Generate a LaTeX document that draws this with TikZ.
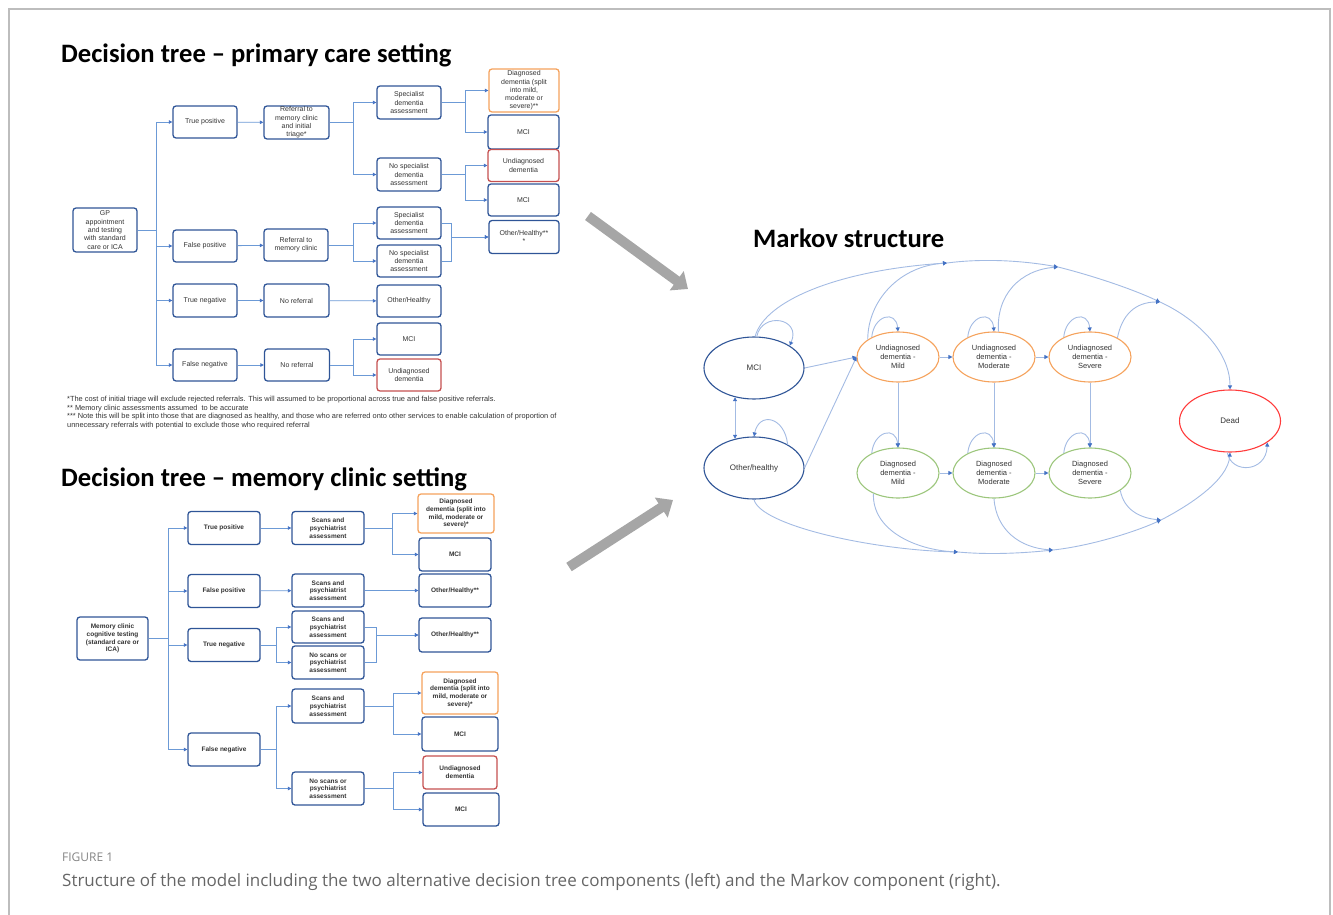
\documentclass[tikz,border=0pt]{standalone}
\usepackage{fontspec}
\setmainfont{Liberation Sans}
\newfontfamily\titlefont{Carlito}
\newfontfamily\capfont{Open Sans}
\usetikzlibrary{arrows.meta,shapes.geometric}

\definecolor{boxblue}{HTML}{2F5597}
\definecolor{boxorange}{HTML}{F5A25C}
\definecolor{boxred}{HTML}{C55050}
\definecolor{stategreen}{HTML}{9CC67C}
\definecolor{deadred}{HTML}{FF3B3B}
\definecolor{lineblue}{HTML}{6C9AD6}
\definecolor{mlineblue}{HTML}{A3BBE3}
\definecolor{tipblue}{HTML}{4472C4}
\definecolor{darktext}{HTML}{333333}
\definecolor{arrowgrey}{HTML}{A6A6A6}
\definecolor{framegrey}{HTML}{BDBDBD}
\definecolor{capgrey}{HTML}{666666}

\tikzset{
    title/.style={anchor=base west, inner sep=0pt, font=\fontsize{26.6}{30}\selectfont\titlefont\bfseries},
    pbox/.style={draw=boxblue, line width=1.3pt, rounded corners=3pt, align=center, inner sep=0pt,
        minimum width=64, minimum height=32, text=darktext, font=\fontsize{7}{8.3}\selectfont},
    mbox/.style={pbox, minimum width=72, minimum height=33, font=\fontsize{6.5}{7.7}\selectfont\bfseries},
    orangebox/.style={draw=boxorange},
    redbox/.style={draw=boxred},
    tarrow/.style={draw=lineblue, line width=0.8pt, -{Triangle[width=3.5pt,length=3.5pt,color=tipblue]}},
    mstate/.style={ellipse, draw, line width=1.1pt, align=center, inner sep=0pt,
        minimum width=82, minimum height=50, text=darktext, font=\fontsize{7.5}{9}\selectfont},
    bigstate/.style={mstate, minimum width=100, minimum height=62, font=\fontsize{8}{9.6}\selectfont},
    mline/.style={draw=mlineblue, line width=0.9pt, -{Triangle[width=4pt,length=4pt,color=tipblue]}},
    bigarrow/.style={draw=arrowgrey, line width=10pt, -{Triangle[width=23pt,length=14pt,color=arrowgrey]}},
    note/.style={anchor=north west, align=left, inner sep=0pt, text=darktext, font=\fontsize{7.4}{8.5}\selectfont}
}

\begin{document}
\begin{tikzpicture}[x=1pt, y=1pt]
    \useasboundingbox (0,0) rectangle (1333,-915);
    \draw[framegrey, line width=1.4pt] (9,-915) -- (9,-9) -- (1330,-9) -- (1330,-915);

    % primary care tree
    \node[title] (TITLEA) at (61,-63) {Decision tree – primary care setting};

    \node[pbox, minimum height=44] (GP) at (105,-230) {GP\\appointment\\and testing\\with standard\\care or ICA};
    \node[pbox] (TP) at (205,-122) {True positive};
    \node[pbox] (FP) at (205,-246) {False positive};
    \node[pbox, minimum height=33] (TN) at (205,-300.5) {True negative};
    \node[pbox] (FN) at (205,-365) {False negative};

    \node[pbox, minimum width=65, minimum height=33] (REFA) at (296.5,-122.5) {Referral to\\memory clinic\\and initial\\triage*};
    \node[pbox] (REFB) at (296,-245) {Referral to\\memory clinic};
    \node[pbox, minimum width=65, minimum height=33] (NRA) at (296.5,-300.5) {No referral};
    \node[pbox, minimum width=65] (NRB) at (297,-365) {No referral};

    \node[pbox, minimum height=33] (SPA) at (409,-102.5) {Specialist\\dementia\\assessment};
    \node[pbox, minimum height=33] (NSA) at (409,-174.5) {No specialist\\dementia\\assessment};
    \node[pbox] (SPB) at (409,-223) {Specialist\\dementia\\assessment};
    \node[pbox] (NSB) at (409,-261) {No specialist\\dementia\\assessment};
    \node[pbox] (OHB) at (409,-301) {Other/Healthy};
    \node[pbox] (MCIC) at (409,-339) {MCI};
    \node[pbox, redbox] (UDB) at (409,-375) {Undiagnosed\\dementia};

    \node[pbox, orangebox, minimum width=70, minimum height=43] (DDA) at (524,-90.5) {Diagnosed\\dementia (split\\into mild,\\moderate or\\severe)**};
    \node[pbox, minimum width=71, minimum height=34] (MCIA) at (523.5,-132) {MCI};
    \node[pbox, redbox, minimum width=71] (UDA) at (523.5,-165.5) {Undiagnosed\\dementia};
    \node[pbox, minimum width=71] (MCIB) at (523.5,-200) {MCI};
    \node[pbox, minimum width=70, minimum height=33] (OHA) at (524,-237) {Other/Healthy**\\*};

    \draw[tarrow] (GP.east) -- ++(19,0) |- (TP.west);
    \draw[tarrow] (GP.east) -- ++(19,0) |- (FP.west);
    \draw[tarrow] (GP.east) -- ++(19,0) |- (TN.west);
    \draw[tarrow] (GP.east) -- ++(19,0) |- (FN.west);

    \draw[tarrow] (TP) -- (REFA);
    \draw[tarrow] (FP) -- (REFB);
    \draw[tarrow] (TN) -- (NRA);
    \draw[tarrow] (FN) -- (NRB);

    \draw[tarrow] (REFA.east) -- ++(24,0) |- (SPA.west);
    \draw[tarrow] (REFA.east) -- ++(24,0) |- (NSA.west);
    \draw[tarrow] (REFB.east) -- ++(25,0) |- (SPB.west);
    \draw[tarrow] (REFB.east) -- ++(25,0) |- (NSB.west);
    \draw[tarrow] (NRA) -- (OHB);
    \draw[tarrow] (NRB.east) -- ++(23,0) |- (MCIC.west);
    \draw[tarrow] (NRB.east) -- ++(23,0) |- (UDB.west);

    \draw[tarrow] (SPA.east) -- ++(24,0) |- (DDA.west);
    \draw[tarrow] (SPA.east) -- ++(24,0) |- (MCIA.west);
    \draw[tarrow] (NSA.east) -- ++(24,0) |- (UDA.west);
    \draw[tarrow] (NSA.east) -- ++(24,0) |- (MCIB.west);
    \draw[tarrow] (SPB.east) -- ++(10,0) |- (OHA.west);
    \draw[tarrow] (NSB.east) -- ++(10,0) |- (OHA.west);

    \node[note] (NOTES) at (67,-396) {*The cost of initial triage will exclude rejected referrals. This will assumed to be proportional across true and false positive referrals.\\
        ** Memory clinic assessments assumed\ \ to be accurate\\
        *** Note this will be split into those that are diagnosed as healthy, and those who are referred onto other services to enable calculation of proportion of\\
        unnecessary referrals with potential to exclude those who required referral};

    % memory clinic tree
    \node[title] (TITLEB) at (61,-486) {Decision tree – memory clinic setting};

    \node[mbox, minimum width=71, minimum height=43] (MC) at (112.5,-638.5) {Memory clinic\\cognitive testing\\(standard care or\\ICA)};
    \node[mbox] (TPB) at (224,-528) {True positive};
    \node[mbox] (FPB) at (224,-591) {False positive};
    \node[mbox] (TNB) at (224,-645) {True negative};
    \node[mbox] (FNB) at (224,-749.5) {False negative};

    \node[mbox] (SCA) at (328,-528) {Scans and\\psychiatrist\\assessment};
    \node[mbox] (SCB) at (328,-590.5) {Scans and\\psychiatrist\\assessment};
    \node[mbox, minimum height=32] (SCC) at (328,-627) {Scans and\\psychiatrist\\assessment};
    \node[mbox] (NSC) at (328,-662.5) {No scans or\\psychiatrist\\assessment};
    \node[mbox, minimum height=34] (SCD) at (328,-706) {Scans and\\psychiatrist\\assessment};
    \node[mbox] (NSD) at (328,-788.5) {No scans or\\psychiatrist\\assessment};

    \node[mbox, orangebox, minimum width=76, minimum height=39] (DDB) at (456,-513.5) {Diagnosed\\dementia (split into\\mild, moderate or\\severe)*};
    \node[mbox] (MCID) at (455,-554.5) {MCI};
    \node[mbox] (OHC) at (455,-590.5) {Other/Healthy**};
    \node[mbox, minimum height=34] (OHD) at (455,-635) {Other/Healthy**};
    \node[mbox, orangebox, minimum width=76, minimum height=42] (DDC) at (460,-693) {Diagnosed\\dementia (split into\\mild, moderate or\\severe)*};
    \node[mbox, minimum width=76, minimum height=34] (MCIE) at (460,-734) {MCI};
    \node[mbox, redbox, minimum width=74] (UDC) at (460,-772.5) {Undiagnosed\\dementia};
    \node[mbox, minimum width=76] (MCIF) at (461,-809.5) {MCI};

    \draw[tarrow] (MC.east) -- ++(20,0) |- (TPB.west);
    \draw[tarrow] (MC.east) -- ++(20,0) |- (FPB.west);
    \draw[tarrow] (MC.east) -- ++(20,0) |- (TNB.west);
    \draw[tarrow] (MC.east) -- ++(20,0) |- (FNB.west);

    \draw[tarrow] (TPB) -- (SCA);
    \draw[tarrow] (FPB) -- (SCB);
    \draw[tarrow] (TNB.east) -- ++(16,0) |- (SCC.west);
    \draw[tarrow] (TNB.east) -- ++(16,0) |- (NSC.west);
    \draw[tarrow] (FNB.east) -- ++(16,0) |- (SCD.west);
    \draw[tarrow] (FNB.east) -- ++(16,0) |- (NSD.west);

    \draw[tarrow] (SCA.east) -- ++(28,0) |- (DDB.west);
    \draw[tarrow] (SCA.east) -- ++(28,0) |- (MCID.west);
    \draw[tarrow] (SCB) -- (OHC);
    \draw[tarrow] (SCC.east) -- ++(12,0) |- (OHD.west);
    \draw[tarrow] (NSC.east) -- ++(12,0) |- (OHD.west);
    \draw[tarrow] (SCD.east) -- ++(29,0) |- (DDC.west);
    \draw[tarrow] (SCD.east) -- ++(29,0) |- (MCIE.west);
    \draw[tarrow] (NSD.east) -- ++(29,0) |- (UDC.west);
    \draw[tarrow] (NSD.east) -- ++(29,0) |- (MCIF.west);

    % grey arrows into the Markov part
    \coordinate (GA1) at (588,-216);
    \coordinate (GA2) at (688,-289);
    \coordinate (GB1) at (569,-567);
    \coordinate (GB2) at (673,-500);
    \draw[bigarrow] (GA1) -- (GA2);
    \draw[bigarrow] (GB1) -- (GB2);

    % Markov structure
    \node[title] (TITLEM) at (753,-247) {Markov structure};

    \node[bigstate, draw=boxblue] (MCIM) at (754,-368) {MCI};
    \node[bigstate, draw=boxblue] (OH) at (754,-468) {Other/healthy};
    \node[mstate, draw=boxorange] (UM) at (898,-357) {Undiagnosed\\dementia -\\Mild};
    \node[mstate, draw=boxorange] (UMO) at (994,-357) {Undiagnosed\\dementia -\\Moderate};
    \node[mstate, draw=boxorange] (US) at (1090,-357) {Undiagnosed\\dementia -\\Severe};
    \node[mstate, draw=stategreen] (DM) at (898,-473) {Diagnosed\\dementia -\\Mild};
    \node[mstate, draw=stategreen] (DMO) at (994,-473) {Diagnosed\\dementia -\\Moderate};
    \node[mstate, draw=stategreen] (DS) at (1090,-473) {Diagnosed\\dementia -\\Severe};
    \node[bigstate, draw=deadred, minimum width=101] (DEAD) at (1230,-421) {Dead};

    \coordinate (J1) at (947,-263);
    \coordinate (J2) at (1058,-267);
    \coordinate (J3) at (1160,-302);
    \coordinate (B1) at (958,-552);
    \coordinate (B2) at (1053,-550);
    \coordinate (B3) at (1161,-520);

    \draw[mline] (MCIM.east) -- (UM.west);
    \draw[mline] (OH.east) -- (UM.west);
    \draw[mline, {Triangle[width=4pt,length=4pt,color=tipblue]}-{Triangle[width=4pt,length=4pt,color=tipblue]}] (MCIM.237) -- (OH.123);

    \draw[mline] (UM) -- (UMO);
    \draw[mline] (UMO) -- (US);
    \draw[mline] (DM) -- (DMO);
    \draw[mline] (DMO) -- (DS);
    \draw[mline] (UM) -- (DM);
    \draw[mline] (UMO) -- (DMO);
    \draw[mline] (US) -- (DS);

    % self loops
    \draw[mline] (MCIM.85) .. controls +(5,25) and +(12,28) .. (MCIM.32);
    \draw[mline] (OH.35) .. controls +(-3,28) and +(5,25) .. (OH.north);
    \draw[mline] (UM.143) .. controls +(2,22) and +(-2,22) .. (UM.north);
    \draw[mline] (UMO.143) .. controls +(2,22) and +(-2,22) .. (UMO.north);
    \draw[mline] (US.143) .. controls +(2,22) and +(-2,22) .. (US.north);
    \draw[mline] (DM.143) .. controls +(2,22) and +(-2,22) .. (DM.north);
    \draw[mline] (DMO.143) .. controls +(2,22) and +(-2,22) .. (DMO.north);
    \draw[mline] (DS.143) .. controls +(2,22) and +(-2,22) .. (DS.north);
    \draw[mline] (DEAD.265) .. controls +(4,-22) and +(-1,-30) .. (DEAD.-30);

    % upper arc to Dead
    \draw[mline] (MCIM.88) .. controls (765,-300) and (840,-270) .. (J1);
    \draw[mline] (UM.150) .. controls (868,-300) and (900,-266) .. (J1);
    \draw[mline] (J1) .. controls (985,-258) and (1025,-261) .. (J2);
    \draw[mline] (UMO.80) .. controls (996,-295) and (1020,-270) .. (J2);
    \draw[mline] (J2) .. controls (1090,-275) and (1130,-288) .. (J3);
    \draw[mline] (US.35) .. controls (1122,-315) and (1135,-302) .. (J3);
    \draw[mline] (J3) .. controls (1195,-318) and (1230,-350) .. (DEAD.north);

    % lower arc to Dead
    \draw[mline] (OH.south) .. controls (760,-525) and (870,-550) .. (B1);
    \draw[mline] (DM.220) .. controls (872,-530) and (915,-550) .. (B1);
    \draw[mline] (B1) .. controls (990,-555) and (1025,-553) .. (B2);
    \draw[mline] (DMO.south) .. controls (996,-530) and (1020,-548) .. (B2);
    \draw[mline] (B2) .. controls (1090,-546) and (1135,-532) .. (B3);
    \draw[mline] (DS.330) .. controls (1124,-510) and (1140,-518) .. (B3);
    \draw[mline] (B3) .. controls (1190,-505) and (1228,-480) .. (DEAD.south);

    % caption
    \node[anchor=base west, inner sep=0pt, text=capgrey!80, font=\capfont\fontsize{12}{14}\selectfont] (FIGLABEL) at (62,-861.5) {FIGURE 1};
    \node[anchor=base west, inner sep=0pt, text=capgrey, font=\capfont\fontsize{17}{20}\selectfont] (CAPTION) at (62,-886) {Structure of the model including the two alternative decision tree components (left) and the Markov component (right).};
\end{tikzpicture}
\end{document}
